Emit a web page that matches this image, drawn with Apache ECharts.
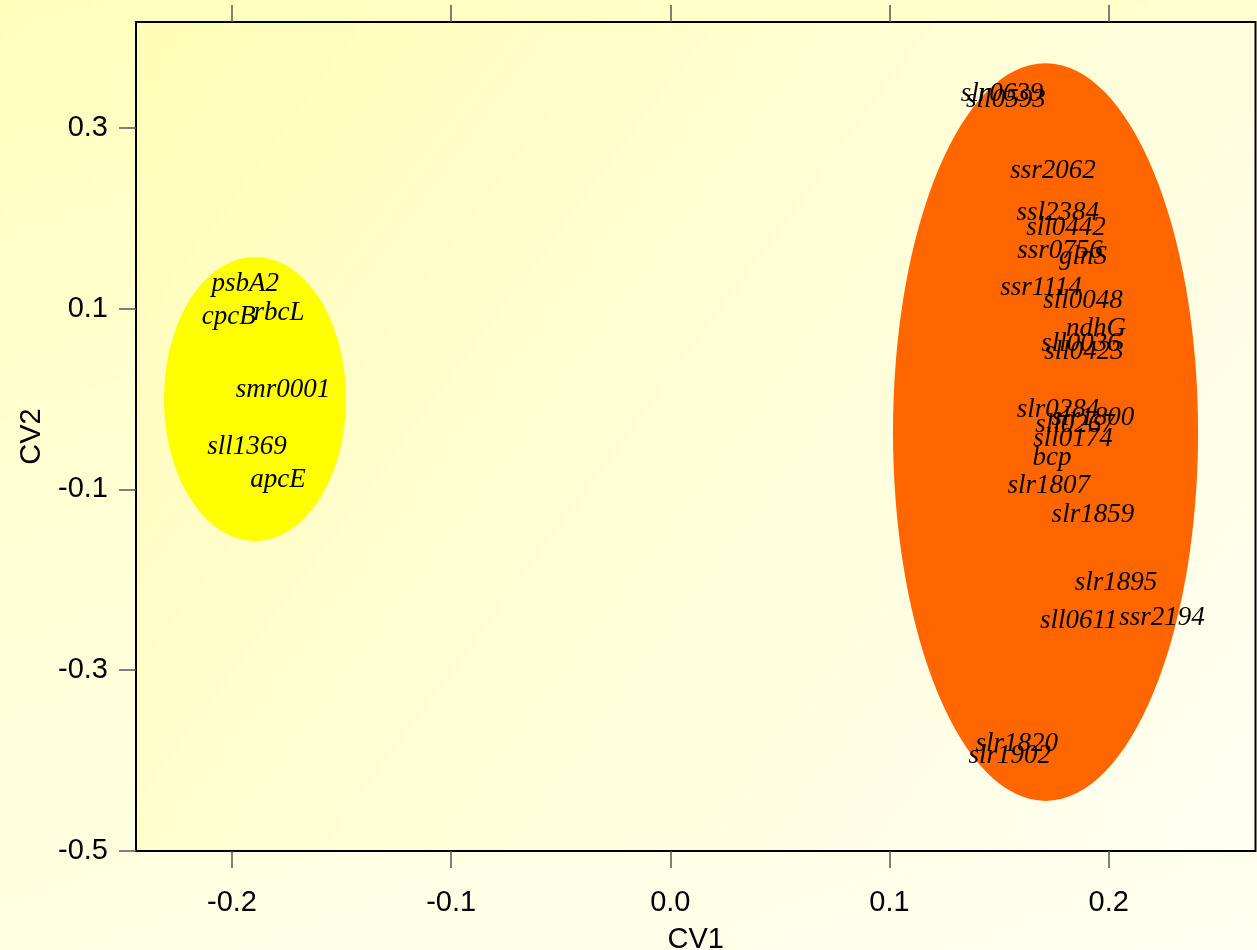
<!DOCTYPE html>
<html>
<head>
<meta charset="utf-8">
<script src="https://cdn.jsdelivr.net/npm/echarts@6/dist/echarts.min.js"></script>
<style>
  html, body { margin: 0; padding: 0; }
  body { width: 1257px; height: 950px; background: linear-gradient(160deg, #FFFFBC 0%, #FFFFD8 45%, #FFFFF0 100%); }
  #chart { width: 1257px; height: 950px; }
</style>
</head>
<body>
<div id="chart"></div>
<script>
// Canonical variate scores (CV1, CV2) for each gene
const groupAGenes = ['psbA2', 'cpcB', 'rbcL', 'smr0001', 'sll1369', 'apcE'];
const groupACV1 = [-0.194, -0.2015, -0.1785, -0.1767, -0.1931, -0.1790];
const groupACV2 = [0.127, 0.0906, 0.095, 0.010, -0.053, -0.0896];

const groupBGenes = ['slr0639', 'sll0593', 'ssr2062', 'ssl2384', 'sll0442', 'ssr0756', 'glnS',
  'ssr1114', 'sll0048', 'ndhG', 'sll0036', 'sll0423', 'slr0284', 'slr1800', 'sll0267',
  'sll0174', 'bcp', 'slr1807', 'slr1859', 'slr1895', 'sll0611', 'ssr2194', 'slr1820', 'slr1902'];
const groupBCV1 = [0.1513, 0.1531, 0.1746, 0.1768, 0.1805, 0.1778, 0.1883,
  0.1691, 0.1883, 0.1942, 0.1874, 0.1887, 0.1769, 0.1928, 0.1846,
  0.1837, 0.1741, 0.1727, 0.1928, 0.2033, 0.1864, 0.2243, 0.1581, 0.1549];
const groupBCV2 = [0.338, 0.331, 0.252, 0.206, 0.189, 0.164, 0.157,
  0.123, 0.109, 0.077, 0.061, 0.052, -0.012, -0.021, -0.029,
  -0.044, -0.065, -0.096, -0.128, -0.203, -0.245, -0.242, -0.381, -0.395];

// Group ellipses: [centre CV1, centre CV2, half-width CV1, half-height CV2]
const ellipseA = [-0.1895, 0.0, 0.0415, 0.157];
const ellipseB = [0.1712, -0.0366, 0.0696, 0.408];

const xTicks = [-0.2, -0.1, 0.0, 0.1, 0.2];
const yTicks = [-0.5, -0.3, -0.1, 0.1, 0.3];

const xRange = [-0.2438, 0.267];
const yRange = [-0.5, 0.417];

const chart = echarts.init(document.getElementById('chart'), null, { renderer: 'canvas' });

function labelRows(names, xs, ys) {
  return names.map((n, i) => [xs[i], ys[i], n]);
}

const tickStyle = { show: true, length: 17, lineStyle: { color: '#555', width: 1.5 } };
const labelFont = { fontFamily: 'Liberation Sans, Arial, sans-serif', fontSize: 29, color: '#000' };
const hiddenLine = { show: false, onZero: false };

function renderEllipse(params, api) {
  const c = api.coord([api.value(0), api.value(1)]);
  const s = api.size([api.value(2), api.value(3)]);
  return {
    type: 'ellipse',
    shape: { cx: c[0], cy: c[1], rx: s[0], ry: s[1] },
    style: { fill: api.value(4) === 0 ? '#FFFF00' : '#FF6600' }
  };
}

function renderName(params, api) {
  const c = api.coord([api.value(0), api.value(1)]);
  return {
    type: 'text',
    x: c[0], y: c[1],
    style: {
      text: api.value(2),
      font: 'italic 27px "Liberation Serif", "Times New Roman", serif',
      fill: '#000',
      align: 'center',
      verticalAlign: 'middle'
    }
  };
}

chart.setOption({
  animation: false,
  grid: {
    left: 136, top: 22, right: 1.5, bottom: 99,
    outerBoundsMode: 'none',
    containLabel: false,
    show: true,
    borderColor: '#000', borderWidth: 2,
    backgroundColor: new echarts.graphic.LinearGradient(0, 0, 1, 1, [
      { offset: 0, color: '#FFFDB6' },
      { offset: 0.5, color: '#FFFED6' },
      { offset: 1, color: '#FFFFF2' }
    ])
  },
  xAxis: [{
    type: 'value', position: 'bottom',
    min: xRange[0], max: xRange[1],
    axisLine: hiddenLine,
    splitLine: { show: false },
    axisTick: Object.assign({ customValues: xTicks }, tickStyle),
    axisLabel: Object.assign({ customValues: xTicks, margin: 37, formatter: v => v.toFixed(1) }, labelFont),
    name: 'CV1', nameLocation: 'middle', nameGap: 74,
    nameTextStyle: labelFont
  }, {
    type: 'value', position: 'top',
    min: xRange[0], max: xRange[1],
    axisLine: hiddenLine,
    splitLine: { show: false },
    axisTick: Object.assign({ customValues: xTicks }, tickStyle),
    axisLabel: { show: false }
  }],
  yAxis: [{
    type: 'value', position: 'left',
    min: yRange[0], max: yRange[1],
    axisLine: hiddenLine,
    splitLine: { show: false },
    axisTick: Object.assign({ customValues: yTicks }, tickStyle),
    axisLabel: Object.assign({ customValues: yTicks, margin: 28, formatter: v => v.toFixed(1) }, labelFont),
    name: 'CV2', nameLocation: 'middle', nameGap: 90, nameRotate: 90,
    nameTextStyle: labelFont
  }],
  series: [{
    type: 'custom',
    renderItem: renderEllipse,
    data: [ellipseA.concat([0]), ellipseB.concat([1])],
    silent: true, z: 1
  }, {
    type: 'custom',
    renderItem: renderName,
    data: labelRows(groupAGenes, groupACV1, groupACV2),
    silent: true, z: 2
  }, {
    type: 'custom',
    renderItem: renderName,
    data: labelRows(groupBGenes, groupBCV1, groupBCV2),
    silent: true, z: 2
  }]
});
</script>
</body>
</html>
